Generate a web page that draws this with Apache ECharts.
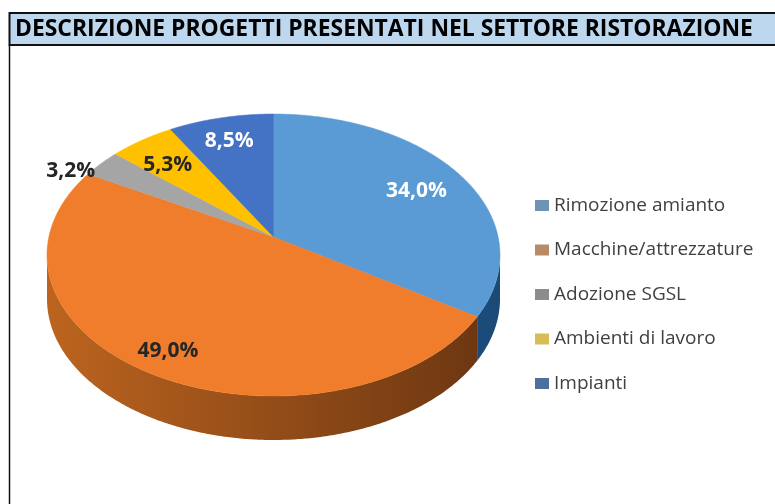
<!DOCTYPE html>
<html>
<head>
<meta charset="utf-8">
<style>
html, body { margin: 0; padding: 0; background: #fff; }
#chart { width: 775px; height: 504px; }
</style>
<script src="https://cdn.jsdelivr.net/npm/echarts@6/dist/echarts.min.js"></script>
</head>
<body>
<div id="chart"></div>
<script>
const titleText = 'DESCRIZIONE PROGETTI PRESENTATI NEL SETTORE RISTORAZIONE'
const categories = ['Rimozione amianto', 'Macchine/attrezzature', 'Adozione SGSL', 'Ambienti di lavoro', 'Impianti']
const values = [34.0, 49.0, 3.2, 5.3, 8.5]

const topColors = ['#5B9BD5', '#EF7D2B', '#A5A5A5', '#FFC000', '#4472C4']
const legendColors = ['#6f93b5', '#b98a66', '#8c8c8c', '#d6bd55', '#4f6f9f']
const wallStops = [
    ['#2f6ea6', '#1b4a77'],
    ['#bc641f', '#6a3511'],
    ['#777777', '#555555'],
    ['#b88a00', '#8a6800'],
    ['#2f528f', '#203864']
]
const labelColors = ['#fff', '#262626', '#262626', '#262626', '#fff']
// label placement: fraction of the radius, and degrees off the slice's middle
const labelRadius = [0.75, 0.857, 1.086, 0.75, 0.79]
const labelShift = [1.2, -0.9, -6.8, -2.1, -0.6]

// pie geometry: ellipse + perspective shift of the centre
const cx = 273.5, cy = 255, rx = 226.5, ry = 141, depth = 44, k = -0.128
const s = Math.sqrt(1 - k * k)

function project(deg, r) {
    const a = deg * Math.PI / 180
    const x = r * Math.sin(a), y = -r * Math.cos(a)
    const d = 1 + k * y
    return [cx + rx * x * s / d, cy + ry * (y + k) / d]
}

const total = values.reduce((a, b) => a + b, 0)
const starts = []
values.reduce((sum, v, i) => { starts[i] = sum; return sum + v }, 0)

function renderSlice(i) {
    const from = starts[i] / total * 360
    const to = (starts[i] + values[i]) / total * 360
    const steps = Math.ceil((to - from) / 0.5)
    const rim = []
    for (let j = 0; j <= steps; j++) rim.push(project(from + (to - from) * j / steps, 1))

    const children = []
    const front = rim.filter(p => p[1] >= cy)
    if (front.length > 1) {
        const wall = front.concat(front.slice().reverse().map(p => [p[0], p[1] + depth]))
        children.push({
            type: 'polygon',
            shape: { points: wall },
            style: {
                fill: new echarts.graphic.LinearGradient(cx - rx, 0, cx + rx, 0, [
                    { offset: 0, color: wallStops[i][0] },
                    { offset: 1, color: wallStops[i][1] }
                ], true)
            }
        })
    }
    children.push({
        type: 'polygon',
        shape: { points: [project(0, 0)].concat(rim) },
        style: { fill: topColors[i], stroke: topColors[i], lineWidth: 0.5 }
    })
    const mid = project((from + to) / 2 + labelShift[i], labelRadius[i])
    children.push({
        type: 'text',
        z2: 10,
        style: {
            text: values[i].toFixed(1).replace('.', ',') + '%',
            x: mid[0],
            y: mid[1],
            align: 'center',
            verticalAlign: 'middle',
            fill: labelColors[i],
            font: 'bold 21px "Open Sans"'
        }
    })
    return { type: 'group', children: children }
}

const chart = echarts.init(document.getElementById('chart'), null, { renderer: 'canvas' })
chart.setOption({
    animation: false,
    backgroundColor: '#fff',
    title: {
        text: titleText,
        left: 15,
        top: 18,
        padding: 0,
        textStyle: { fontFamily: 'Open Sans', fontWeight: 'bold', fontSize: 22.9, color: '#000' }
    },
    legend: {
        orient: 'vertical',
        left: 535,
        top: 196,
        padding: 0,
        itemWidth: 14,
        itemHeight: 11,
        itemGap: 25.5,
        icon: 'rect',
        textStyle: { fontFamily: 'Open Sans', fontSize: 19, color: '#404040' },
        data: categories.map((name, i) => ({ name: name, itemStyle: { color: legendColors[i] } }))
    },
    graphic: [
        {
            type: 'rect',
            z: -1,
            shape: { x: 9.5, y: 13, width: 780, height: 32 },
            style: { fill: '#BDD7EE', stroke: '#111', lineWidth: 2 }
        },
        {
            type: 'line',
            z: -1,
            shape: { x1: 9.5, y1: 45, x2: 9.5, y2: 504 },
            style: { stroke: '#111', lineWidth: 1.5 }
        }
    ],
    series: categories.map((name, i) => ({
        type: 'custom',
        name: name,
        coordinateSystem: 'none',
        silent: true,
        itemStyle: { color: topColors[i] },
        data: [values[i]],
        renderItem: () => renderSlice(i)
    }))
})
</script>
</body>
</html>
